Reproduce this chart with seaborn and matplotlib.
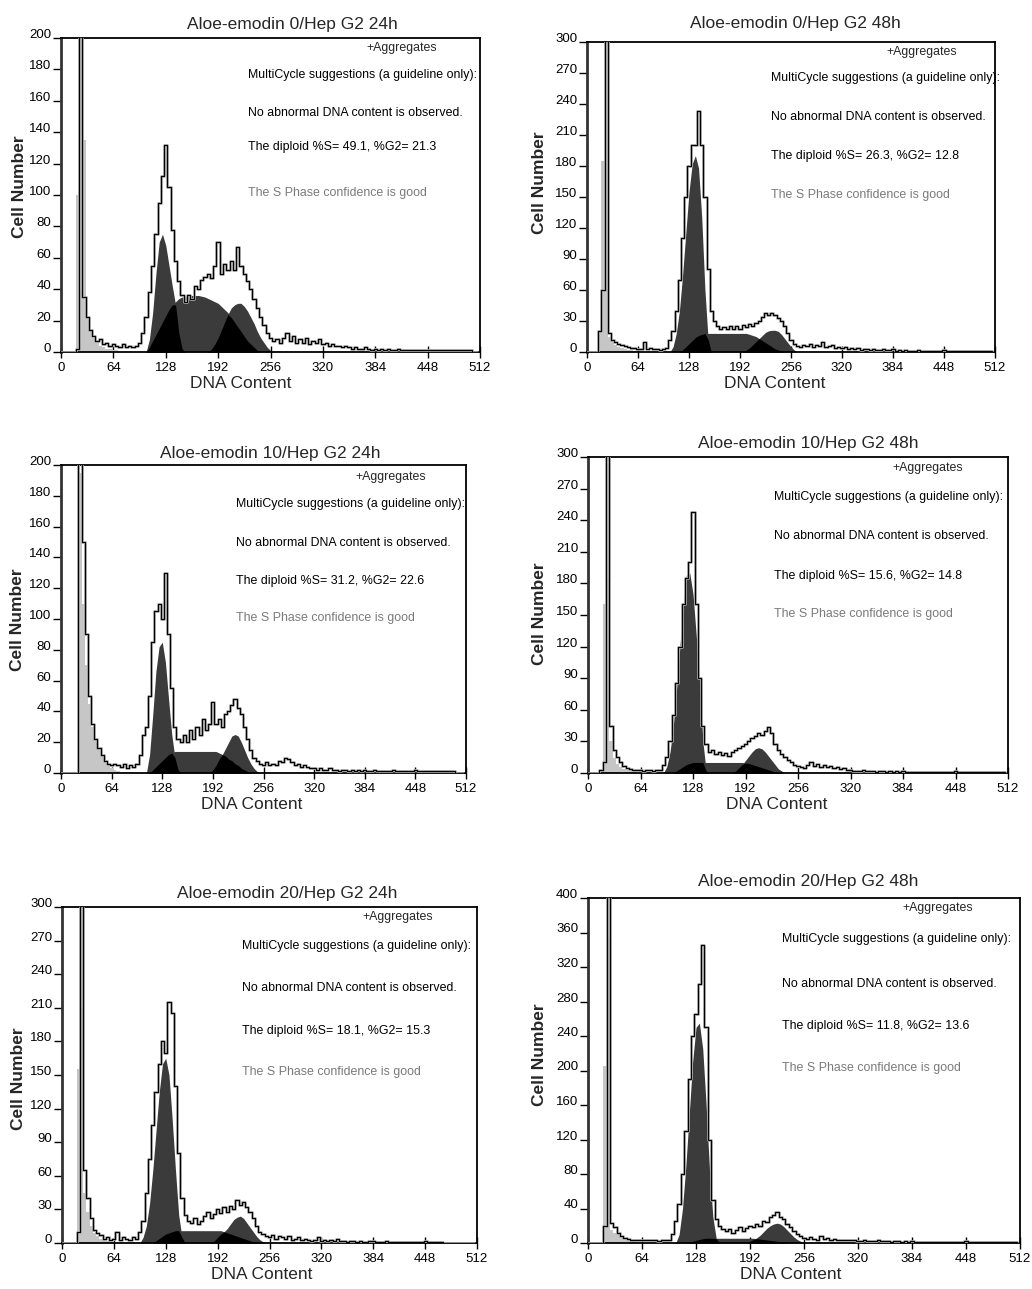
import numpy as np
import matplotlib
matplotlib.use("Agg")
import matplotlib.pyplot as plt
from matplotlib import font_manager
import seaborn as sns

# ---------------- data ----------------
# channel grid (DNA content), 4-channel bins
CHANNELS = np.arange(0, 512, 4)

TITLES = ["Aloe-emodin 0/Hep G2 24h", "Aloe-emodin 0/Hep G2 48h",
          "Aloe-emodin 10/Hep G2 24h", "Aloe-emodin 10/Hep G2 48h",
          "Aloe-emodin 20/Hep G2 24h", "Aloe-emodin 20/Hep G2 48h"]
S_PCT = [49.1, 26.3, 31.2, 15.6, 18.1, 11.8]
G2_PCT = [21.3, 12.8, 22.6, 14.8, 15.3, 13.6]
Y_MAX = [200, 300, 200, 300, 300, 400]
X_TICKS = [0, 64, 128, 192, 256, 320, 384, 448, 512]

# Panel 1: 0 / 24h
P1_TOTAL = [0, 0, 0, 0, 0, 2, 260, 35, 22, 14, 10, 7, 8, 5, 6, 4,
            5, 4, 3, 5, 3, 4, 3, 4, 6, 12, 22, 38, 55, 75, 95, 112,
            132, 105, 78, 58, 45, 36, 32, 36, 34, 42, 40, 46, 48, 50, 47, 55,
            70, 50, 56, 52, 58, 52, 67, 55, 50, 45, 40, 34, 28, 22, 17, 12,
            9, 7, 8, 6, 9, 12, 7, 10, 6, 8, 6, 9, 5, 7, 6, 8,
            5, 6, 4, 5, 4, 4, 3, 4, 3, 2, 3, 2, 2, 3, 2, 1,
            2, 1, 2, 1, 2, 1, 1, 2, 1, 1, 1, 1, 1, 1, 1, 1,
            1, 1, 1, 1, 1, 1, 1, 1, 1, 1, 1, 1, 1, 1, 0, 0]
P1_G1_START, P1_G1 = 104, [0, 8, 25, 50, 70, 75, 68, 55, 42, 30, 12, 2, 0]
P1_S_START, P1_S = 104, [0, 3, 7, 11, 15, 19, 23, 27, 30, 32, 34, 35, 35, 35.5, 36, 36, 36, 35.5,
                         35, 34, 33, 32, 31, 29, 27, 25, 22, 19, 16, 13, 10, 7, 5, 3, 1, 0]
P1_G2_START, P1_G2 = 180, [0, 2, 5, 9, 14, 19, 24, 28, 30, 31, 31, 29, 26, 22, 18, 13, 9, 6, 3, 1, 0]
P1_DEB_START, P1_DEB = 20, [100, 40, 135, 22, 14, 9, 6, 4, 3, 2, 2, 1, 1, 0]

# Panel 2: 0 / 48h
P2_TOTAL = [0, 0, 0, 0, 20, 60, 400, 18, 12, 10, 8, 7, 6, 5, 4, 4,
            3, 3, 10, 3, 4, 3, 3, 2, 3, 4, 12, 20, 40, 70, 110, 150,
            180, 200, 200, 233, 200, 150, 80, 40, 30, 25, 22, 24, 22, 25, 22, 25,
            22, 26, 24, 27, 25, 28, 30, 34, 38, 36, 38, 36, 33, 30, 25, 18,
            12, 8, 6, 5, 7, 6, 8, 5, 7, 6, 10, 5, 6, 7, 4, 5,
            4, 5, 3, 4, 3, 4, 2, 3, 3, 2, 3, 2, 2, 3, 2, 2,
            3, 1, 2, 1, 2, 1, 1, 1, 2, 1, 1, 1, 1, 1, 1, 1,
            2, 1, 1, 1, 1, 1, 1, 1, 1, 1, 1, 1, 1, 1, 1, 1]
P2_G1_START, P2_G1 = 104, [0, 5, 18, 40, 75, 115, 155, 182, 190, 178, 130, 60, 12, 0]
P2_S_START, P2_S = 116, [0, 2, 5, 8, 11, 14, 16, 17, 18, 18, 18, 18, 18, 18, 18, 18, 18, 18, 18, 18,
                         18, 18, 17, 16, 15, 13, 11, 9, 7, 5, 3, 2, 1, 0]
P2_G2_START, P2_G2 = 196, [0, 2, 4, 7, 10, 13, 16, 19, 20.5, 21, 21, 20, 17, 13, 9, 5, 2, 0]
P2_DEB_START, P2_DEB = 16, [20, 185, 60, 15, 10, 7, 5, 4, 3, 2, 2, 1, 0]

# Panel 3: 10 / 24h
P3_TOTAL = [0, 0, 0, 0, 0, 0, 300, 150, 90, 50, 32, 22, 16, 12, 8, 6,
            5, 6, 5, 4, 6, 3, 5, 4, 6, 12, 25, 30, 50, 85, 105, 110,
            100, 130, 90, 55, 30, 22, 20, 25, 20, 28, 22, 30, 25, 35, 28, 32,
            46, 32, 35, 30, 38, 40, 44, 48, 42, 38, 30, 22, 15, 10, 8, 6,
            5, 7, 5, 6, 5, 8, 7, 10, 9, 7, 5, 6, 4, 5, 4, 3,
            3, 2, 3, 2, 2, 3, 2, 2, 1, 2, 2, 1, 2, 1, 2, 1,
            2, 1, 1, 2, 1, 1, 1, 1, 1, 2, 1, 1, 1, 1, 1, 1,
            2, 1, 1, 1, 1, 1, 1, 1, 1, 1, 1, 1, 1, 0, 0, 0]
P3_G1_START, P3_G1 = 108, [0, 12, 38, 66, 82, 85, 72, 48, 25, 10, 2, 0]
P3_S_START, P3_S = 112, [0, 2, 4, 6, 8, 10, 12, 13, 14, 14, 14, 14, 14, 14, 14, 14, 14, 14, 14, 14, 14, 14,
                         13, 12, 11, 9, 8, 6, 5, 3, 2, 1, 0]
P3_G2_START, P3_G2 = 188, [0, 2, 5, 9, 12, 16, 20, 24, 25, 24, 20, 15, 10, 6, 3, 1, 0]
P3_DEB_START, P3_DEB = 24, [195, 110, 70, 45, 30, 22, 16, 11, 7, 5, 3, 2, 1, 0]

# Panel 4: 10 / 48h
P4_TOTAL = [0, 0, 0, 0, 3, 10, 400, 45, 22, 15, 10, 7, 5, 4, 3, 3,
            3, 2, 3, 3, 2, 3, 3, 8, 15, 30, 55, 85, 120, 160, 185, 200,
            248, 160, 90, 45, 28, 20, 22, 18, 20, 17, 19, 16, 20, 22, 24, 26,
            28, 30, 33, 35, 38, 36, 40, 44, 38, 28, 22, 18, 15, 12, 10, 8,
            7, 6, 5, 8, 10, 7, 9, 6, 8, 6, 7, 5, 6, 4, 5, 3,
            3, 2, 2, 2, 3, 2, 2, 2, 1, 2, 2, 1, 2, 1, 2, 1,
            2, 1, 1, 1, 1, 1, 1, 1, 1, 1, 1, 1, 1, 1, 1, 1,
            2, 1, 1, 1, 1, 1, 1, 1, 1, 1, 1, 1, 1, 1, 1, 1]
P4_G1_START, P4_G1 = 92, [0, 6, 20, 45, 80, 120, 160, 188, 190, 170, 130, 90, 30, 2, 0]
P4_S_START, P4_S = 104, [0, 2, 4, 6, 8, 9, 10, 10, 10, 10, 10, 10, 10, 10, 10, 10, 10, 10, 10, 10, 10, 10,
                         9.5, 9, 8, 7, 6, 5, 4, 3, 2, 1, 0.5, 0]
P4_G2_START, P4_G2 = 176, [0, 2, 5, 8, 12, 16, 20, 23, 24, 23, 20, 16, 12, 8, 4, 2, 0]
P4_DEB_START, P4_DEB = 16, [3, 160, 185, 30, 14, 9, 6, 4, 3, 2, 1, 0]

# Panel 5: 20 / 24h
P5_TOTAL = [0, 0, 0, 0, 0, 10, 400, 65, 40, 22, 12, 9, 7, 4, 5, 3,
            4, 10, 3, 5, 4, 3, 5, 4, 10, 20, 45, 75, 105, 135, 160, 180,
            170, 215, 205, 140, 80, 40, 25, 20, 18, 22, 17, 20, 24, 28, 22, 26,
            30, 27, 32, 28, 33, 30, 38, 34, 37, 32, 28, 22, 15, 10, 8, 6,
            5, 7, 4, 6, 5, 4, 6, 3, 4, 5, 3, 4, 3, 2, 3, 5,
            2, 3, 2, 3, 2, 4, 2, 2, 1, 2, 2, 1, 2, 1, 1, 2,
            2, 1, 1, 1, 2, 1, 1, 1, 1, 1, 1, 1, 1, 1, 1, 1,
            2, 1, 1, 1, 1, 1, 0, 0, 0, 0, 0, 0, 0, 0, 0, 0]
P5_G1_START, P5_G1 = 96, [0, 5, 15, 35, 65, 100, 135, 160, 165, 150, 110, 65, 25, 5, 0]
P5_S_START, P5_S = 112, [0, 2, 4, 6, 8, 9, 10, 11, 11, 11, 11, 11, 11, 11, 11, 11, 11, 11, 11, 11, 11, 11,
                         10, 9, 8, 7, 6, 5, 4, 3, 2, 1, 0]
P5_G2_START, P5_G2 = 184, [0, 2, 5, 8, 10, 13, 17, 21, 23, 24, 22, 18, 14, 10, 6, 3, 1, 0]
P5_DEB_START, P5_DEB = 16, [0, 155, 210, 45, 28, 15, 9, 6, 4, 3, 2, 1, 0]

# Panel 6: 20 / 48h
P6_TOTAL = [0, 0, 0, 0, 0, 20, 500, 23, 18, 12, 8, 6, 5, 4, 4, 3,
            3, 3, 4, 3, 3, 2, 3, 3, 4, 10, 25, 45, 80, 130, 190, 240,
            265, 300, 345, 250, 120, 50, 28, 20, 16, 14, 16, 12, 15, 18, 14, 17,
            20, 18, 22, 20, 26, 24, 30, 32, 36, 30, 28, 22, 18, 14, 10, 8,
            6, 5, 7, 5, 4, 8, 5, 6, 4, 5, 4, 3, 4, 3, 4, 3,
            2, 2, 3, 2, 2, 2, 3, 2, 2, 2, 1, 2, 2, 1, 2, 1,
            2, 1, 1, 1, 1, 1, 1, 1, 1, 1, 1, 1, 1, 1, 1, 1,
            2, 1, 1, 1, 1, 1, 1, 1, 1, 1, 1, 1, 1, 1, 1, 1]
P6_G1_START, P6_G1 = 104, [0, 10, 40, 90, 150, 210, 250, 255, 225, 160, 85, 30, 5, 0]
P6_S_START, P6_S = 116, [0, 1, 2, 3, 4, 5, 5.5, 5.5, 5.5, 5.5, 5.5, 5.5, 5.5, 5.5, 5.5, 5.5, 5.5, 5.5, 5.5,
                         5.5, 5.5, 5, 4.5, 4, 3.5, 3, 2.5, 2, 1.5, 1, 0.5, 0]
P6_G2_START, P6_G2 = 188, [0, 2, 4, 6, 9, 13, 17, 20, 22, 23, 22, 19, 15, 11, 7, 4, 2, 0]
P6_DEB_START, P6_DEB = 16, [0, 205, 355, 15, 12, 9, 6, 4, 3, 2, 1, 0]

# ---------------- style ----------------
sns.set_style("ticks")
plt.rcParams["font.family"] = ["Liberation Sans", "DejaVu Sans"]


def has_font(name):
    try:
        font_manager.findfont(font_manager.FontProperties(family=name), fallback_to_default=False)
        return True
    except Exception:
        return False


NARROW = has_font("Liberation Sans Narrow")
BLOCK_FAMILY = ["Liberation Sans Narrow", "Liberation Sans"] if NARROW else ["Liberation Sans"]
BLOCK_SIZE = 9.6 if NARROW else 8.9

W, H = 1032, 1289
fig = plt.figure(figsize=(W / 100, H / 100), dpi=100)
fig.patch.set_facecolor("white")


def place(start, vals):
    arr = np.zeros(len(CHANNELS))
    i = start // 4
    arr[i:i + len(vals)] = vals
    return arr


panels = [
    dict(total=P1_TOTAL, g1=(P1_G1_START, P1_G1), s=(P1_S_START, P1_S), g2=(P1_G2_START, P1_G2),
         deb=(P1_DEB_START, P1_DEB),
         rect=(61, 38, 480, 352), title=(292, 9), xl=0.43, yl=(-34, 0.525),
         agg=(0.814, 0.968), blk=(0.446, [0.882, 0.761, 0.653, 0.506])),
    dict(total=P2_TOTAL, g1=(P2_G1_START, P2_G1), s=(P2_S_START, P2_S), g2=(P2_G2_START, P2_G2),
         deb=(P2_DEB_START, P2_DEB),
         rect=(587, 42, 995, 352), title=(795, 14), xl=0.46, yl=(-40, 0.545),
         agg=(0.820, 0.968), blk=(0.451, [0.884, 0.758, 0.632, 0.506])),
    dict(total=P3_TOTAL, g1=(P3_G1_START, P3_G1), s=(P3_S_START, P3_S), g2=(P3_G2_START, P3_G2),
         deb=(P3_DEB_START, P3_DEB),
         rect=(61, 465, 466, 773), title=(270, 7), xl=0.47, yl=(-36, 0.497),
         agg=(0.815, 0.960), blk=(0.432, [0.873, 0.747, 0.623, 0.503])),
    dict(total=P4_TOTAL, g1=(P4_G1_START, P4_G1), s=(P4_S_START, P4_S), g2=(P4_G2_START, P4_G2),
         deb=(P4_DEB_START, P4_DEB),
         rect=(588, 457, 1008, 773), title=(808, 9), xl=0.45, yl=(-41, 0.503),
         agg=(0.810, 0.965), blk=(0.443, [0.873, 0.750, 0.623, 0.503])),
    dict(total=P5_TOTAL, g1=(P5_G1_START, P5_G1), s=(P5_S_START, P5_S), g2=(P5_G2_START, P5_G2),
         deb=(P5_DEB_START, P5_DEB),
         rect=(62, 907, 477, 1243), title=(287, 9), xl=0.48, yl=(-36, 0.49),
         agg=(0.810, 0.970), blk=(0.434, [0.884, 0.759, 0.631, 0.509])),
    dict(total=P6_TOTAL, g1=(P6_G1_START, P6_G1), s=(P6_S_START, P6_S), g2=(P6_G2_START, P6_G2),
         deb=(P6_DEB_START, P6_DEB),
         rect=(588, 898, 1020, 1243), title=(808, 12), xl=0.47, yl=(-41, 0.545),
         agg=(0.810, 0.970), blk=(0.449, [0.881, 0.751, 0.629, 0.507])),
]

DARK = "#3b3b3b"
LIGHT = "#c6c6c6"

for k, p in enumerate(panels):
    l, t, r, b = p["rect"]
    axw, axh = r - l, b - t
    ax = fig.add_axes([l / W, 1 - b / H, axw / W, axh / H])
    ax.set_facecolor("white")

    tot = np.array(p["total"], dtype=float)
    g1 = place(*p["g1"])
    s = place(*p["s"])
    g2 = place(*p["g2"])
    deb = place(*p["deb"])

    ax.fill_between(CHANNELS, 0, deb, step="mid", color=LIGHT, lw=0, zorder=1)
    ax.fill_between(CHANNELS, 0, s, color=DARK, lw=0, zorder=2)
    ax.fill_between(CHANNELS, 0, g1, color=DARK, lw=0, zorder=2)
    ax.fill_between(CHANNELS, 0, g2, color=DARK, lw=0, zorder=2)
    ax.fill_between(CHANNELS, 0, np.minimum(g1, s), color="black", lw=0, zorder=3)
    ax.fill_between(CHANNELS, 0, np.minimum(g2, s), color="black", lw=0, zorder=3)

    sns.lineplot(x=CHANNELS, y=tot, drawstyle="steps-mid", color="#a5a5a5", lw=2.0,
                 estimator=None, ax=ax, zorder=4)
    sns.lineplot(x=CHANNELS, y=tot, drawstyle="steps-mid", color="black", lw=0.8,
                 estimator=None, ax=ax, zorder=5)

    ymax = Y_MAX[k]
    ax.set_xlim(0, 512)
    ax.set_ylim(0, ymax)
    ax.set_xticks(X_TICKS)
    ax.set_xticklabels([str(v) for v in X_TICKS], fontsize=9.5)
    yt = list(range(0, ymax + 1, ymax // 10))
    ax.set_yticks(yt)
    ax.set_yticklabels([str(v) for v in yt], fontsize=9.5, va="baseline")
    ax.tick_params(axis="y", direction="out", length=6, width=1.0, pad=1, colors="black")
    ax.tick_params(axis="x", direction="inout", length=8, width=1.0, pad=3, colors="black")

    for side in ["top", "right", "bottom"]:
        ax.spines[side].set_visible(True)
        ax.spines[side].set_linewidth(1.3)
        ax.spines[side].set_color("black")
    ax.spines["left"].set_linewidth(2.0)
    ax.spines["left"].set_color("#333333")

    ax.set_xlabel("DNA Content", fontsize=12.5)
    ax.xaxis.set_label_coords(p["xl"], -24 / axh)
    ax.set_ylabel("Cell Number", fontsize=12.5, fontweight="bold")
    ax.yaxis.set_label_coords(p["yl"][0] / axw, p["yl"][1])

    tx, toff = p["title"]
    ax.text((tx - l) / axw, 1 + toff / axh, TITLES[k], transform=ax.transAxes,
            ha="center", va="baseline", fontsize=12.5)

    ax_, ay_ = p["agg"]
    ax.text(ax_, ay_, "+Aggregates", transform=ax.transAxes, ha="center", va="center",
            fontsize=BLOCK_SIZE, family=BLOCK_FAMILY)
    bx, bys = p["blk"]
    lines = ["MultiCycle suggestions (a guideline only):",
             "No abnormal DNA content is observed.",
             f"The diploid %S= {S_PCT[k]}, %G2= {G2_PCT[k]}",
             "The S Phase confidence is good"]
    colors = ["black", "black", "black", "#7a7a7a"]
    for line, yy, c in zip(lines, bys, colors):
        ax.text(bx, yy, line, transform=ax.transAxes, ha="left", va="center",
                fontsize=BLOCK_SIZE, family=BLOCK_FAMILY, color=c)

fig.savefig("out.png", dpi=100, facecolor="white")
